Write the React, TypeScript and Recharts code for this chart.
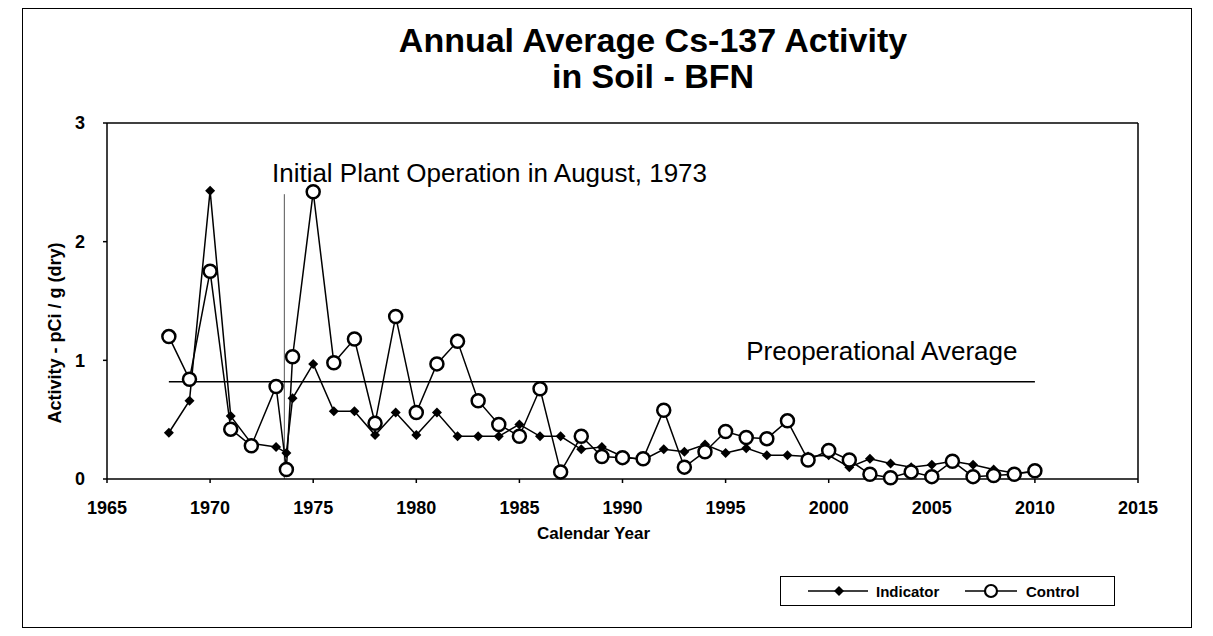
import React from "react";
import {
  LineChart,
  Line,
  XAxis,
  YAxis,
  ReferenceLine,
  ReferenceDot,
  Legend,
} from "recharts";

// sampling years (two extra points around the Aug 1973 start-up)
const years = [
  1968, 1969, 1970, 1971, 1972, 1973.2, 1973.7, 1974, 1975, 1976, 1977, 1978,
  1979, 1980, 1981, 1982, 1983, 1984, 1985, 1986, 1987, 1988, 1989, 1990,
  1991, 1992, 1993, 1994, 1995, 1996, 1997, 1998, 1999, 2000, 2001, 2002,
  2003, 2004, 2005, 2006, 2007, 2008, 2009, 2010,
];

const indicator = [
  0.39, 0.66, 2.43, 0.53, 0.3, 0.27, 0.22, 0.68, 0.97, 0.57, 0.57, 0.37, 0.56,
  0.37, 0.56, 0.36, 0.36, 0.36, 0.46, 0.36, 0.36, 0.25, 0.27, 0.19, 0.16, 0.25,
  0.23, 0.29, 0.22, 0.26, 0.2, 0.2, 0.19, 0.2, 0.1, 0.17, 0.13, 0.1, 0.12, 0.15,
  0.12, 0.08, 0.05, 0.06,
];

const control = [
  1.2, 0.84, 1.75, 0.42, 0.28, 0.78, 0.08, 1.03, 2.42, 0.98, 1.18, 0.47, 1.37,
  0.56, 0.97, 1.16, 0.66, 0.46, 0.36, 0.76, 0.06, 0.36, 0.19, 0.18, 0.17, 0.58,
  0.1, 0.23, 0.4, 0.35, 0.34, 0.49, 0.16, 0.24, 0.16, 0.04, 0.01, 0.06, 0.02,
  0.15, 0.02, 0.03, 0.04, 0.07,
];

const xTicks = [1965, 1970, 1975, 1980, 1985, 1990, 1995, 2000, 2005, 2010, 2015];
const yTicks = [0, 1, 2, 3];

const preopAverage = 0.82;
const preopStart = 1968;
const preopEnd = 2010;
const startupYear = 1973.6;

const data = years.map((year, i) => ({
  year,
  indicator: indicator[i],
  control: control[i],
}));

const font = "'Liberation Sans', Arial, Helvetica, sans-serif";

const DiamondDot = (props: any) => {
  const { cx, cy, index } = props;
  if (cx == null || cy == null) return null;
  const s = 5;
  return (
    <path
      key={`d-${index}`}
      d={`M${cx},${cy - s} L${cx + s},${cy} L${cx},${cy + s} L${cx - s},${cy} Z`}
      fill="#000"
    />
  );
};

const renderLegend = () => (
  <div
    style={{
      border: "1.5px solid #000",
      height: 30,
      boxSizing: "border-box",
      display: "flex",
      alignItems: "center",
      fontFamily: font,
      fontWeight: "bold",
      fontSize: 15,
      paddingLeft: 26,
    }}
  >
    <svg width={62} height={14}>
      <line x1={1} y1={7} x2={61} y2={7} stroke="#000" strokeWidth={1.5} />
      <path d="M32,2 L37,7 L32,12 L27,7 Z" fill="#000" />
    </svg>
    <span style={{ marginLeft: 7, width: 88 }}>Indicator</span>
    <svg width={54} height={18}>
      <line x1={1} y1={9} x2={53} y2={9} stroke="#000" strokeWidth={1.5} />
      <circle cx={27} cy={9} r={6} fill="#fff" stroke="#000" strokeWidth={2.2} />
    </svg>
    <span style={{ marginLeft: 8 }}>Control</span>
  </div>
);

const tickStyle = { fill: "#000", fontSize: 18, fontWeight: "bold", fontFamily: font };

export default function App() {
  return (
    <div style={{ position: "relative", width: 1197, height: 628, fontFamily: font }}>
      <div
        style={{
          position: "absolute",
          left: 14,
          top: 0,
          width: 1170,
          height: 620,
          border: "1px solid #000",
          boxSizing: "border-box",
        }}
      />
      <div
        style={{
          position: "absolute",
          left: 0,
          width: 1290,
          top: 14,
          textAlign: "center",
          fontWeight: "bold",
          fontSize: 34,
          lineHeight: "36px",
          color: "#000",
        }}
      >
        Annual Average Cs-137 Activity
        <br />
        in Soil - BFN
      </div>
      <LineChart
        width={1197}
        height={628}
        data={data}
        margin={{ top: 115, right: 67, bottom: 67, left: 39 }}
        style={{ position: "absolute", left: 0, top: 0 }}
      >
        <XAxis
          dataKey="year"
          type="number"
          domain={[1965, 2015]}
          ticks={xTicks}
          allowDataOverflow
          stroke="#000"
          strokeWidth={1.5}
          tickSize={4}
          tickMargin={18}
          height={60}
          tick={tickStyle}
          label={{
            value: "Calendar Year",
            position: "insideBottom",
            offset: 0,
            dx: -29,
            fill: "#000",
            fontSize: 17,
            fontWeight: "bold",
            fontFamily: font,
          }}
        />
        <YAxis
          type="number"
          domain={[0, 3]}
          ticks={yTicks}
          stroke="#000"
          strokeWidth={1.5}
          tickSize={4}
          tickMargin={18}
          width={60}
          tick={tickStyle}
          label={{
            value: "Activity  -  pCi / g (dry)",
            angle: -90,
            position: "insideLeft",
            offset: 8,
            dy: 32,
            style: { textAnchor: "middle" },
            fill: "#000",
            fontSize: 18,
            fontWeight: "bold",
            fontFamily: font,
          }}
        />
        <ReferenceLine y={3} stroke="#000" strokeWidth={1.5} />
        <ReferenceLine x={2015} stroke="#000" strokeWidth={1.5} />
        <ReferenceLine
          segment={[
            { x: startupYear, y: 0 },
            { x: startupYear, y: 2.4 },
          ]}
          stroke="#555"
          strokeWidth={1}
        />
        <ReferenceLine
          segment={[
            { x: preopStart, y: preopAverage },
            { x: preopEnd, y: preopAverage },
          ]}
          stroke="#000"
          strokeWidth={1.5}
        />
        <ReferenceDot
          x={1973}
          y={2.58}
          r={0}
          fill="none"
          stroke="none"
          label={{
            value: "Initial Plant Operation in August, 1973",
            position: "right",
            offset: 0,
            fill: "#000",
            fontSize: 26,
            fontFamily: font,
          }}
        />
        <ReferenceDot
          x={1996}
          y={1.08}
          r={0}
          fill="none"
          stroke="none"
          label={{
            value: "Preoperational Average",
            position: "right",
            offset: 0,
            fill: "#000",
            fontSize: 26,
            fontFamily: font,
          }}
        />
        <Line
          dataKey="indicator"
          name="Indicator"
          stroke="#000"
          strokeWidth={1.5}
          dot={DiamondDot}
          isAnimationActive={false}
        />
        <Line
          dataKey="control"
          name="Control"
          stroke="#000"
          strokeWidth={1.5}
          dot={{ r: 6.5, fill: "#fff", stroke: "#000", strokeWidth: 2.5 }}
          isAnimationActive={false}
        />
        <Legend
          content={renderLegend}
          wrapperStyle={{ position: "absolute", left: 772, top: 568, width: 335, height: 30 }}
        />
      </LineChart>
    </div>
  );
}
